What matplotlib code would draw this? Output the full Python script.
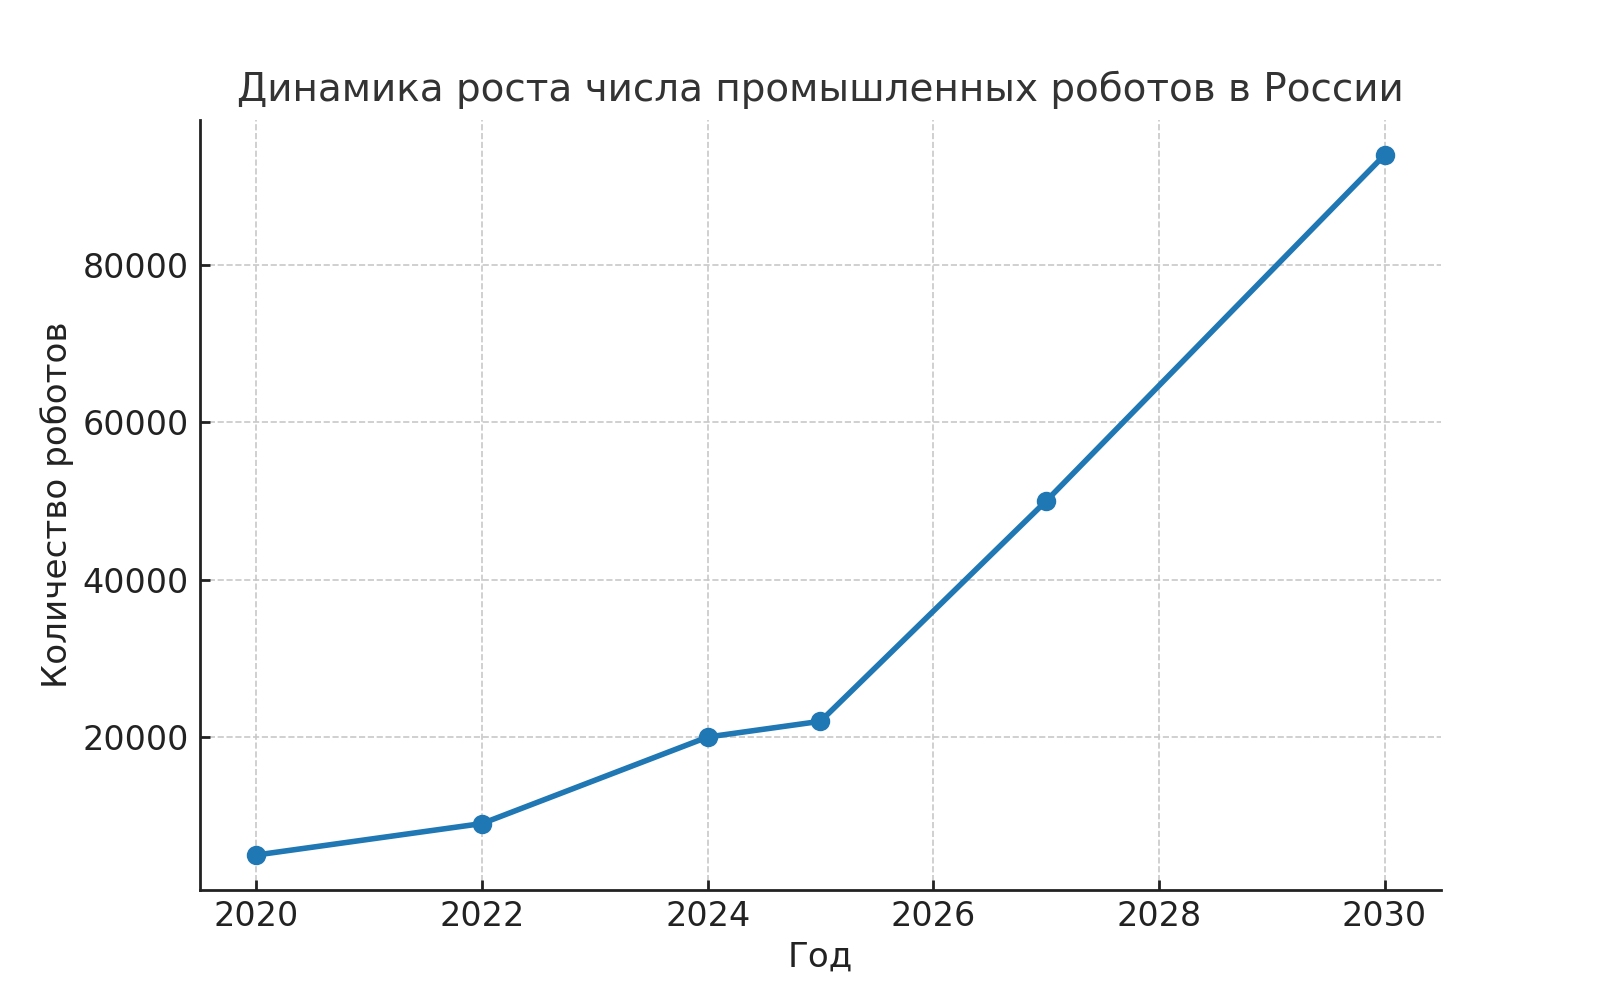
import matplotlib
matplotlib.use("Agg")
import matplotlib.pyplot as plt

years = [2020, 2022, 2024, 2025, 2027, 2030]
robots = [5000, 9000, 20000, 22000, 50000, 94000]
xticks = [2020, 2022, 2024, 2026, 2028, 2030]
yticks = [20000, 40000, 60000, 80000]

title = "Динамика роста числа промышленных роботов в России"
xlabel = "Год"
ylabel = "Количество роботов"

plt.rcParams['font.family'] = ['DejaVu Sans']
fig = plt.figure(figsize=(8, 5), dpi=200)
ax = fig.add_axes([0.125, 0.11, 0.7756, 0.77])

ax.plot(years, robots, color='#1f77b4', linewidth=2.0, marker='o', markersize=6, zorder=3)

ax.set_xticks(xticks)
ax.set_yticks(yticks)
ax.set_xticklabels([str(t) for t in xticks])
ax.set_yticklabels([str(t) for t in yticks])

ax.grid(True, linestyle='--', color='#c8c8c8', linewidth=0.6)
ax.set_axisbelow(True)
for s in ['top', 'right']:
    ax.spines[s].set_visible(False)
for s in ['left', 'bottom']:
    ax.spines[s].set_color('#222222')
    ax.spines[s].set_linewidth(1.0)

ax.tick_params(direction='in', length=3.5, width=1.0, colors='#222222', labelsize=12)
ax.tick_params(axis='x', pad=3.5)
ax.tick_params(axis='y', pad=4)
ax.set_title(title, fontsize=14, color='#333333', pad=7)
ax.set_xlabel(xlabel, fontsize=12.3, color='#222222', labelpad=3)
ax.set_ylabel(ylabel, fontsize=12.3, color='#222222', labelpad=3)

fig.savefig("out.png", dpi=200, facecolor='white')
